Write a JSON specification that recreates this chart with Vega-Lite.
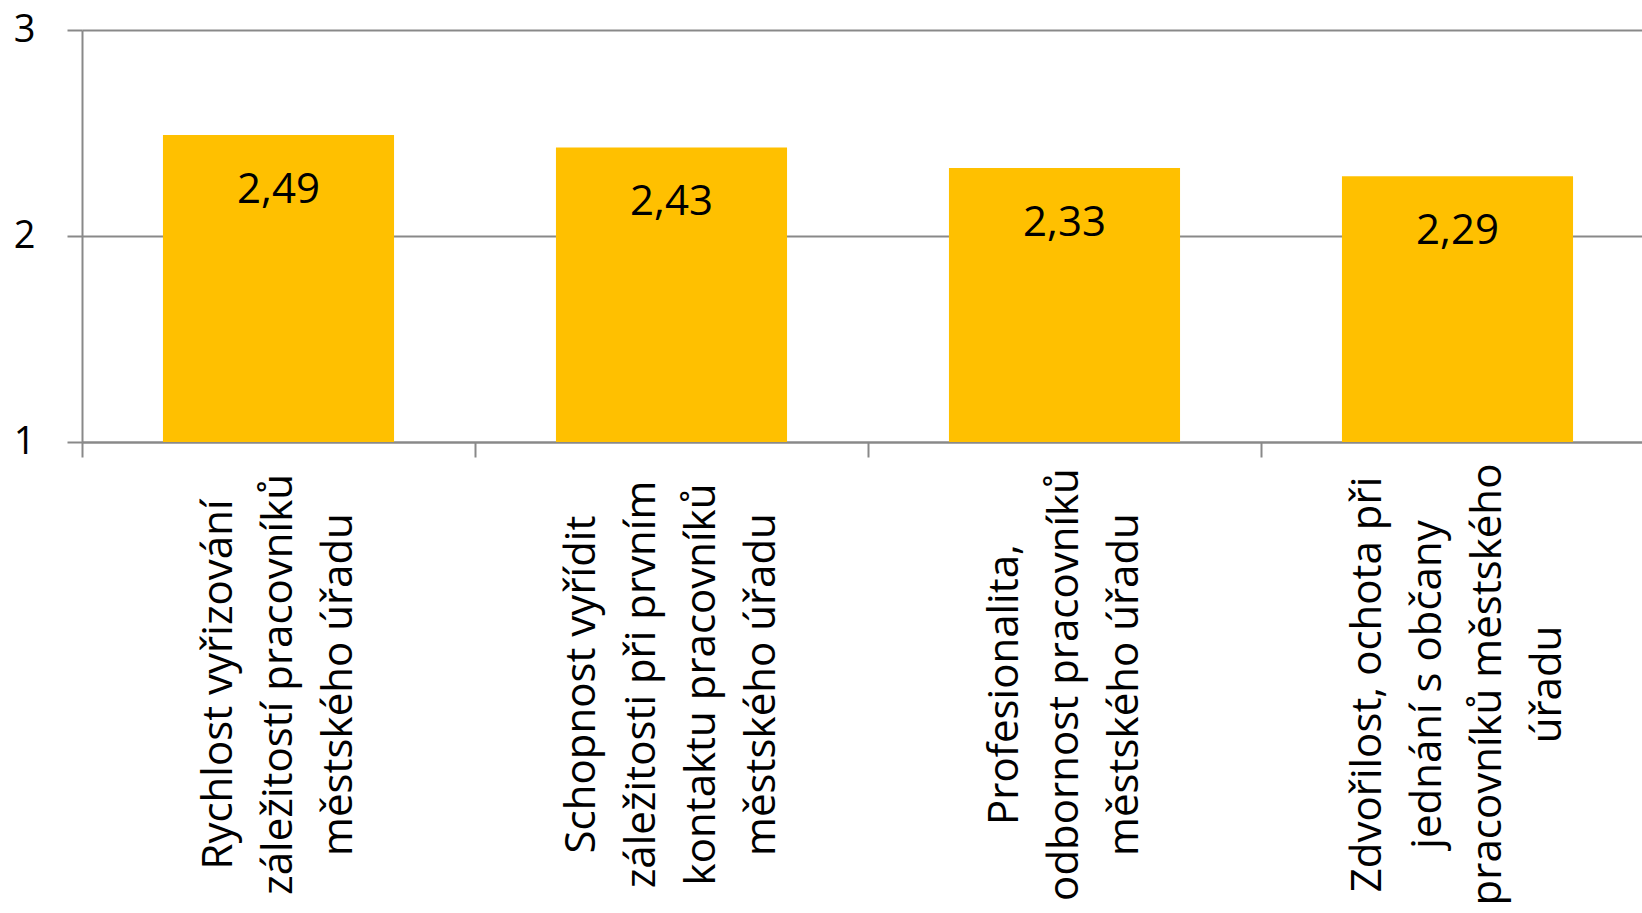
{
  "$schema": "https://vega.github.io/schema/vega-lite/v6.json",
  "width": 1560,
  "height": 412,
  "autosize": {"type": "none"},
  "padding": {"left": 82, "top": 30, "right": 0, "bottom": 471},
  "background": "white",
  "data": {
    "values": [
      {"kategorie": "Rychlost vyřizování\nzáležitostí pracovníků\nměstského úřadu", "hodnota": 2.49},
      {"kategorie": "Schopnost vyřídit\nzáležitosti při prvním\nkontaktu pracovníků\nměstského úřadu", "hodnota": 2.43},
      {"kategorie": "Profesionalita,\nodbornost pracovníků\nměstského úřadu", "hodnota": 2.33},
      {"kategorie": "Zdvořilost, ochota při\njednání s občany\npracovníků městského\núřadu", "hodnota": 2.29}
    ]
  },
  "encoding": {
    "x": {
      "field": "kategorie",
      "type": "nominal",
      "sort": null,
      "title": null,
      "scale": {"paddingInner": 0, "paddingOuter": 0, "range": [0, 1572]},
      "axis": {
        "labelExpr": "split(datum.label, '\\n')",
        "labelAngle": -90,
        "labelAlign": "center",
        "labelBaseline": "middle",
        "labelPadding": 227,
        "labelOffset": {"condition": {"test": "length(split(datum.label, '\\n')) == 4", "value": -90}, "value": -60},
        "labelLineHeight": 60,
        "labelFont": "Open Sans",
        "labelFontSize": 42,
        "labelColor": "#000000",
        "labelLimit": 0,
        "labelOverlap": false,
        "tickBand": "extent",
        "tickSize": 15,
        "tickColor": "#898989",
        "tickWidth": 2,
        "domainColor": "#898989",
        "domainWidth": 2,
        "grid": false
      }
    }
  },
  "layer": [
    {
      "mark": {"type": "bar", "color": "#FFC000", "width": {"band": 0.588}},
      "encoding": {
        "y": {
          "field": "hodnota",
          "type": "quantitative",
          "title": null,
          "scale": {"domain": [1, 3], "nice": false, "zero": false},
          "axis": {
            "tickCount": 2,
            "labelFont": "Open Sans",
            "labelFontSize": 38,
            "labelColor": "#000000",
            "labelPadding": 32,
            "labelOverlap": false,
            "labelFlush": false,
            "tickSize": 15,
            "tickColor": "#898989",
            "tickWidth": 2,
            "domainColor": "#898989",
            "domainWidth": 2,
            "grid": true,
            "gridColor": "#898989",
            "gridWidth": 2
          }
        },
        "y2": {"datum": 1}
      }
    },
    {
      "mark": {"type": "text", "font": "Open Sans", "fontSize": 42, "color": "#000000", "baseline": "middle", "align": "center", "dy": 55},
      "encoding": {
        "y": {"field": "hodnota", "type": "quantitative"},
        "text": {"field": "hodnota", "type": "quantitative", "format": ".2f"}
      }
    }
  ],
  "config": {
    "view": {"stroke": null},
    "locale": {"number": {"decimal": ",", "thousands": " ", "grouping": [3], "currency": ["", " Kč"]}}
  }
}
